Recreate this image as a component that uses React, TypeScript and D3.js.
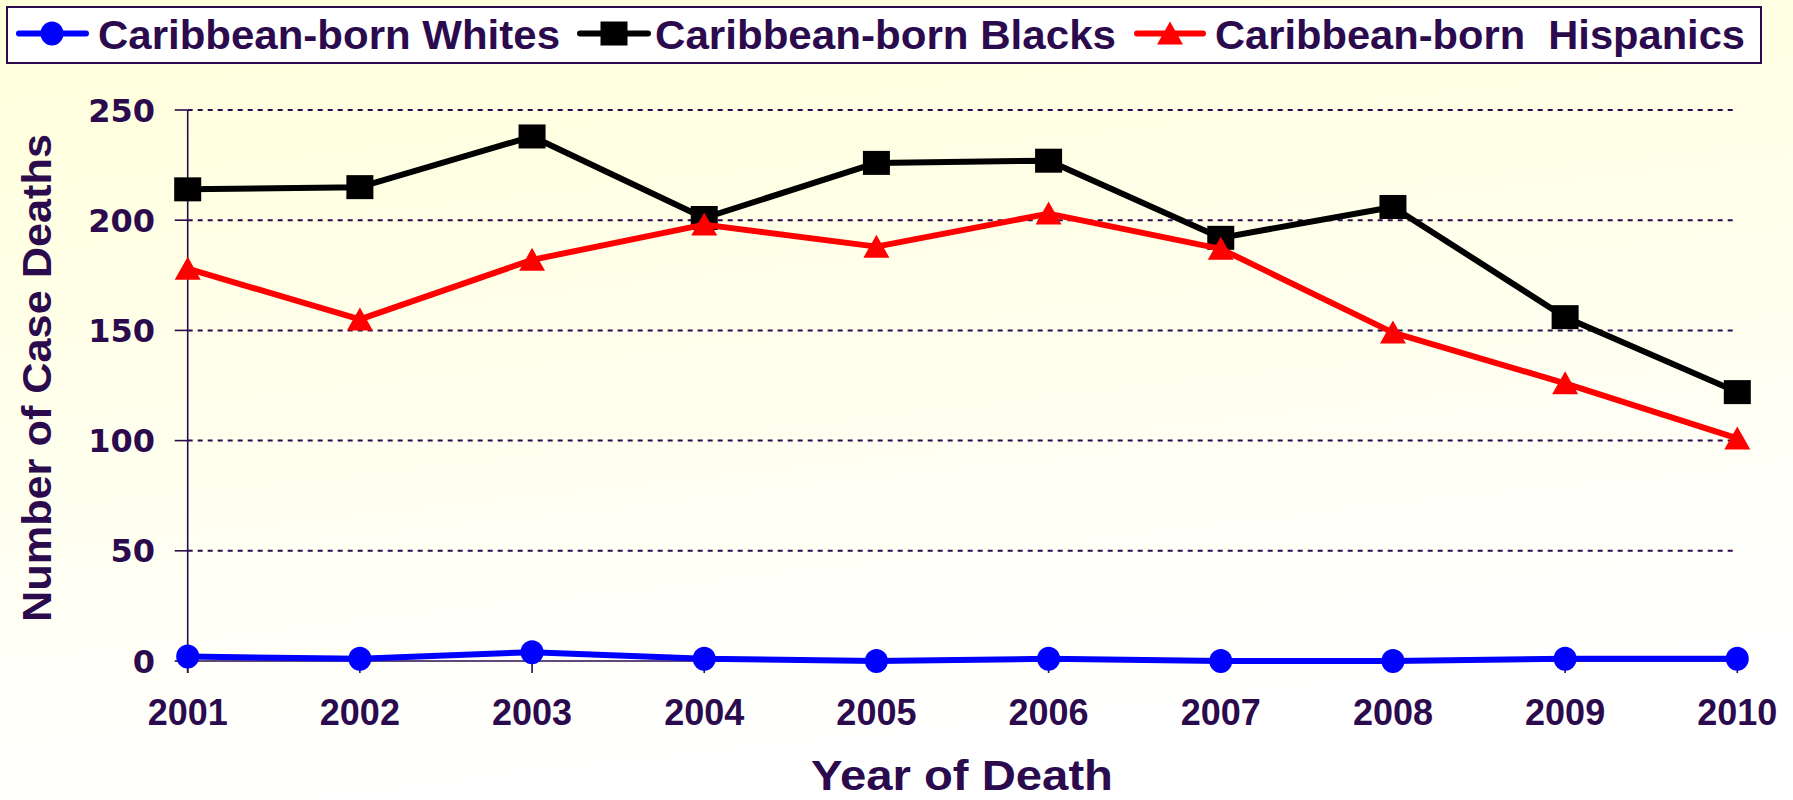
import React from 'react';
import * as d3 from 'd3';

const years = ['2001', '2002', '2003', '2004', '2005', '2006', '2007', '2008', '2009', '2010'];
const whites = [2, 1, 4, 1, 0, 1, 0, 0, 1, 1];
const blacks = [214, 215, 238, 201, 226, 227, 192, 206, 156, 122];
const hispanics = [178, 155, 182, 198, 188, 203, 187, 149, 126, 101];
const yTicks = [0, 50, 100, 150, 200, 250];
const seriesNames = ['Caribbean-born Whites', 'Caribbean-born Blacks', 'Caribbean-born  Hispanics'];
const seriesColors = ['#0000ff', '#000000', '#ff0000'];
const yTitle = 'Number of Case Deaths';
const xTitle = 'Year of Death';

const W = 1793;
const H = 800;
const TXT = '#2b0b4d';
const SANS = '"Liberation Sans", Arial, sans-serif';
const WIDE = '"DejaVu Sans", Verdana, sans-serif';

type Shape = 'circle' | 'square' | 'triangle';
const shapes: Shape[] = ['circle', 'square', 'triangle'];

function Marker({ shape, x, y, color }: { shape: Shape; x: number; y: number; color: string }) {
  if (shape === 'circle') return <ellipse cx={x} cy={y} rx={11.5} ry={12} fill={color} />;
  if (shape === 'square') return <rect x={x - 13.5} y={y - 12} width={27} height={24} fill={color} />;
  return <path d={`M${x},${y - 12}L${x + 13},${y + 11}L${x - 13},${y + 11}Z`} fill={color} />;
}

export default function App() {
  const x = d3.scalePoint<string>().domain(years).range([187.7, 1737.3]).padding(0);
  const y = d3.scaleLinear().domain([0, 250]).range([661, 110]);
  const line = d3
    .line<number>()
    .x((_, i) => x(years[i]) as number)
    .y((d) => y(d));
  const series = [whites, blacks, hispanics];

  const legend = [
    { lx0: 19, lx1: 86, mx: 52, tx: 98, tw: 462 },
    { lx0: 580, lx1: 648, mx: 614, tx: 655, tw: 461 },
    { lx0: 1137, lx1: 1203, mx: 1170, tx: 1215, tw: 530 },
  ];

  const x0 = x(years[0]) as number;
  const x1 = x(years[years.length - 1]) as number;

  return (
    <svg
      width={W}
      height={H}
      viewBox={`0 0 ${W} ${H}`}
      style={{ position: 'absolute', left: 0, top: 0, display: 'block' }}
    >
      <defs>
        <linearGradient id="bg" x1="0" y1="0" x2="0.25" y2="1">
          <stop offset="0" stopColor="#ffffda" />
          <stop offset="0.6" stopColor="#fffff0" />
          <stop offset="1" stopColor="#ffffff" />
        </linearGradient>
      </defs>
      <rect x={0} y={0} width={W} height={H} fill="url(#bg)" />

      {/* gridlines */}
      {yTicks
        .filter((t) => t > 0)
        .map((t) => (
          <line
            key={'g' + t}
            x1={x0}
            x2={x1}
            y1={y(t)}
            y2={y(t)}
            stroke={TXT}
            strokeWidth={2}
            strokeDasharray="5 5"
          />
        ))}

      {/* y axis */}
      <line x1={x0} x2={x0} y1={y(250)} y2={y(0) + 12} stroke={TXT} strokeWidth={1.6} />
      {yTicks.map((t) => (
        <g key={'yt' + t}>
          <line x1={x0 - 13} x2={x0} y1={y(t)} y2={y(t)} stroke={TXT} strokeWidth={1.6} />
          <text
            x={155}
            y={y(t)}
            dy="0.36em"
            textAnchor="end"
            fontFamily={WIDE}
            fontWeight="bold"
            fontSize={32}
            fill={TXT}
          >
            {t}
          </text>
        </g>
      ))}

      {/* x axis */}
      <line x1={x0} x2={x1} y1={y(0)} y2={y(0)} stroke={TXT} strokeWidth={1.6} />
      {years.map((yr) => (
        <g key={'xt' + yr}>
          <line x1={x(yr)} x2={x(yr)} y1={y(0)} y2={y(0) + 12} stroke={TXT} strokeWidth={1.6} />
          <text
            x={x(yr)}
            y={725}
            textAnchor="middle"
            fontFamily={SANS}
            fontWeight="bold"
            fontSize={36}
            fill={TXT}
          >
            {yr}
          </text>
        </g>
      ))}

      {/* series */}
      {series.map((vals, si) => (
        <g key={'s' + si}>
          <path d={line(vals) || ''} fill="none" stroke={seriesColors[si]} strokeWidth={6} strokeLinejoin="round" />
          {vals.map((v, i) => (
            <Marker key={i} shape={shapes[si]} x={x(years[i]) as number} y={y(v)} color={seriesColors[si]} />
          ))}
        </g>
      ))}

      {/* axis titles */}
      <text
        transform={`translate(51,378) rotate(-90)`}
        textAnchor="middle"
        fontFamily={SANS}
        fontWeight="bold"
        fontSize={41}
        fill={TXT}
        textLength={488}
        lengthAdjust="spacingAndGlyphs"
      >
        {yTitle}
      </text>
      <text
        x={962}
        y={790}
        textAnchor="middle"
        fontFamily={SANS}
        fontWeight="bold"
        fontSize={42}
        fill={TXT}
        textLength={302}
        lengthAdjust="spacingAndGlyphs"
      >
        {xTitle}
      </text>

      {/* legend */}
      <rect x={7} y={7} width={1754} height={56} fill="#ffffff" stroke={TXT} strokeWidth={2} />
      {legend.map((L, i) => (
        <g key={'l' + i}>
          <line
            x1={L.lx0}
            x2={L.lx1}
            y1={33.5}
            y2={33.5}
            stroke={seriesColors[i]}
            strokeWidth={6}
            strokeLinecap="round"
          />
          <Marker shape={shapes[i]} x={L.mx} y={33.5} color={seriesColors[i]} />
          <text
            x={L.tx}
            y={49}
            fontFamily={SANS}
            fontWeight="bold"
            fontSize={40}
            fill={TXT}
            textLength={L.tw}
            lengthAdjust="spacingAndGlyphs"
            style={{ whiteSpace: 'pre' }}
          >
            {seriesNames[i]}
          </text>
        </g>
      ))}
    </svg>
  );
}
